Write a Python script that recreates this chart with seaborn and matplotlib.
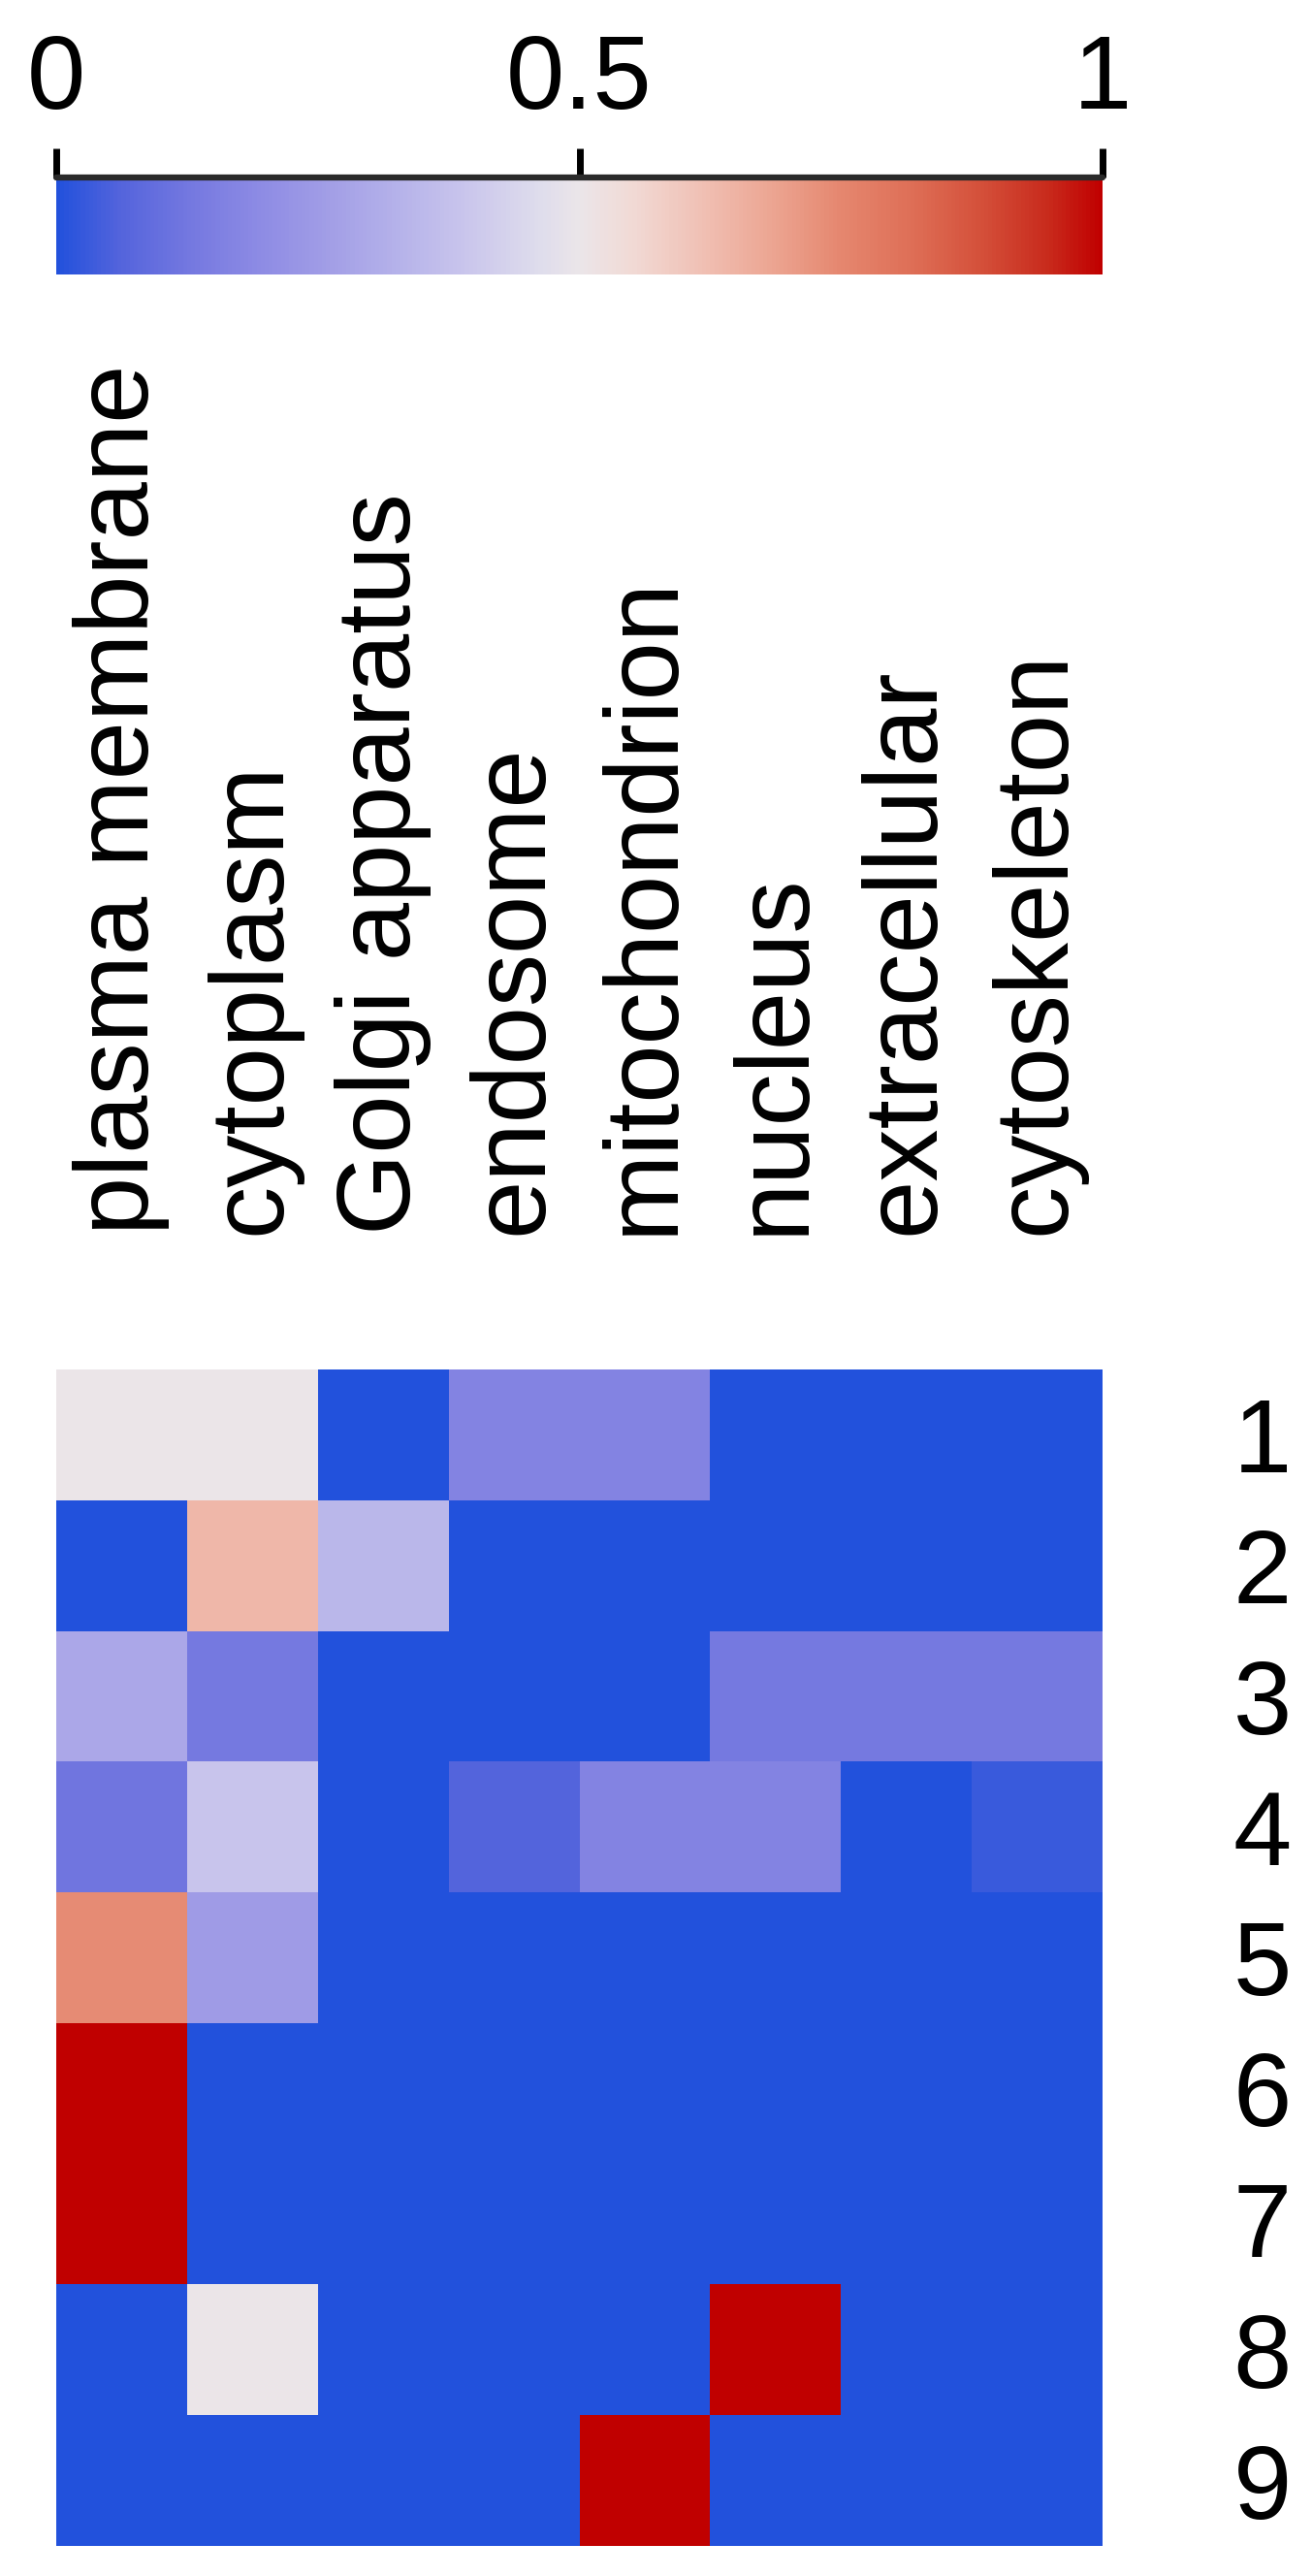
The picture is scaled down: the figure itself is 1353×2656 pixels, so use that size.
import matplotlib

matplotlib.use("Agg")
import matplotlib.pyplot as plt
import pandas as pd
import seaborn as sns
from matplotlib.colors import LinearSegmentedColormap

compartments = [
  "plasma membrane",
  "cytoplasm",
  "Golgi apparatus",
  "endosome",
  "mitochondrion",
  "nucleus",
  "extracellular",
  "cytoskeleton",
]
clusters = ["1", "2", "3", "4", "5", "6", "7", "8", "9"]

# fraction per cluster (rows) and compartment (columns)
scores = [
  [0.50, 0.50, 0.00, 0.165, 0.165, 0.00, 0.00, 0.00],
  [0.00, 0.64, 0.34, 0.00, 0.00, 0.00, 0.00, 0.00],
  [0.29, 0.13, 0.00, 0.00, 0.00, 0.13, 0.13, 0.13],
  [0.12, 0.39, 0.00, 0.06, 0.165, 0.165, 0.00, 0.03],
  [0.74, 0.25, 0.00, 0.00, 0.00, 0.00, 0.00, 0.00],
  [1.00, 0.00, 0.00, 0.00, 0.00, 0.00, 0.00, 0.00],
  [1.00, 0.00, 0.00, 0.00, 0.00, 0.00, 0.00, 0.00],
  [0.00, 0.50, 0.00, 0.00, 0.00, 1.00, 0.00, 0.00],
  [0.00, 0.00, 0.00, 0.00, 1.00, 0.00, 0.00, 0.00],
]

cbar_ticks = [0, 0.5, 1]
cbar_ticklabels = ["0", "0.5", "1"]

# colour stops
cmap_stops = [
  (0.0, "#2251DC"),
  (0.06, "#5464DC"),
  (0.126, "#7478E0"),
  (0.19, "#8C8AE4"),
  (0.26, "#A29EE6"),
  (0.326, "#B5B2EA"),
  (0.39, "#C9C5EC"),
  (0.46, "#DEDCEC"),
  (0.5, "#EBE5E9"),
  (0.55, "#F1DAD5"),
  (0.62, "#F0BFB3"),
  (0.685, "#ECA592"),
  (0.75, "#E5876F"),
  (0.82, "#DE6E56"),
  (0.885, "#D4503A"),
  (0.95, "#C82A1C"),
  (1.0, "#C00000"),
]


def main() -> None:
  sns.set_style("white")
  plt.rcParams["font.family"] = ["Liberation Sans", "DejaVu Sans"]
  plt.rcParams["text.color"] = "black"
  plt.rcParams["xtick.color"] = "black"
  plt.rcParams["ytick.color"] = "black"

  df = pd.DataFrame(scores, index=clusters, columns=compartments)
  cmap = LinearSegmentedColormap.from_list("blue_red", cmap_stops)

  W, H = 1353, 2656
  fig = plt.figure(figsize=(W / 100, H / 100), dpi=100)
  ax = fig.add_axes([58 / W, (H - 2625) / H, 1079 / W, 1213 / H])
  cax = fig.add_axes([58 / W, (H - 283) / H, 1079 / W, 100 / H])

  sns.heatmap(
    df,
    cmap=cmap,
    vmin=0,
    vmax=1,
    ax=ax,
    cbar_ax=cax,
    cbar_kws={"orientation": "horizontal"},
  )

  # heatmap labels: compartments on top, clusters on the right
  ax.xaxis.tick_top()
  ax.yaxis.tick_right()
  ax.set_xlabel("")
  ax.set_ylabel("")
  ax.set_xticklabels(compartments, rotation=90, fontsize=78, color="black")
  ax.set_yticklabels(clusters, rotation=0, fontsize=78, color="black")
  ax.tick_params(axis="x", length=0, pad=100)
  ax.tick_params(axis="y", length=0, pad=97)

  # colour bar with ticks above
  cbar = ax.collections[0].colorbar
  cbar.outline.set_visible(False)
  cbar.set_ticks(cbar_ticks)
  cbar.set_ticklabels(cbar_ticklabels)
  cax.xaxis.set_ticks_position("top")
  cax.tick_params(
    axis="x", length=21.5, width=5, pad=14, labelsize=78, colors="black"
  )
  cax.axhline(cax.get_ylim()[1], color="#2a2a2a", lw=4.5, clip_on=False)

  fig.savefig("out.png", dpi=100)
  plt.close(fig)


main()
